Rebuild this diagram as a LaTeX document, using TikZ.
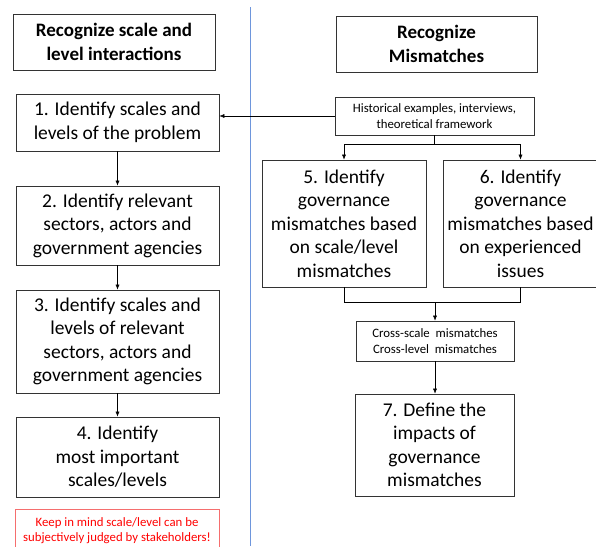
\documentclass[tikz,border=0pt]{standalone}
\usepackage{fontspec}
\setmainfont{Carlito}
\usetikzlibrary{arrows.meta}

\definecolor{sepblue}{RGB}{110,150,220}
\definecolor{warnred}{RGB}{255,0,0}
\definecolor{warnframe}{RGB}{245,110,110}

\tikzset{
    box/.style={draw=black!80, line width=0.8pt, align=center, inner sep=2pt,
        font=\fontsize{19.5}{23.5}\selectfont},
    titlebox/.style={box, font=\fontsize{19}{24}\selectfont\bfseries},
    smallbox/.style={draw=black!80, line width=0.8pt, align=center, inner sep=2pt,
        font=\fontsize{12.8}{16.5}\selectfont},
    warnbox/.style={draw=warnframe, line width=0.8pt, align=center, inner sep=2pt,
        text=warnred, font=\fontsize{12.8}{15.5}\selectfont}
}

\begin{document}
\begin{tikzpicture}[x=1pt, y=-1pt, >={Latex[length=5pt,width=4pt]}]
    \useasboundingbox (0,0) rectangle (596,546);

    % Separator
    \draw[sepblue, line width=0.8pt] (250,7) -- (250,546);

    % Left column
    \node[titlebox, minimum width=202, minimum height=56] (tl) at (114,42)
        {Recognize scale and\\level interactions};
    \node[box, minimum width=203, minimum height=57] (b1) at (117.5,122.5)
        {1. Identify scales and\\levels of the problem};
    \node[box, minimum width=203, minimum height=79] (b2) at (117.5,225.5)
        {2. Identify relevant\\sectors, actors and\\government agencies};
    \node[box, minimum width=203, minimum height=103] (b3) at (117.5,341.5)
        {3. Identify scales and\\levels of relevant\\sectors, actors and\\government agencies};
    \node[box, minimum width=203, minimum height=80] (b4) at (117.5,457)
        {4. Identify\\most important\\scales/levels};
    \node[warnbox, minimum width=204, minimum height=42, anchor=north] (warn) at (117,509)
        {Keep in mind scale/level can be\\subjectively judged by stakeholders!};

    \draw[->] (b1) -- (b2);
    \draw[->] (b2) -- (b3);
    \draw[->] (b3) -- (b4);

    % Right column
    \node[titlebox, minimum width=201, minimum height=56] (tr) at (436.5,44)
        {Recognize\\Mismatches};
    \node[smallbox, minimum width=199, minimum height=38] (hist) at (434.5,116)
        {Historical examples, interviews,\\theoretical framework};
    \node[box, minimum width=164, minimum height=127] (b5) at (344,223.5)
        {5. Identify\\governance\\mismatches based\\on scale/level\\mismatches};
    \node[box, minimum width=155, minimum height=127] (b6) at (520.5,223.5)
        {6. Identify\\governance\\mismatches based\\on experienced\\issues};
    \node[smallbox, minimum width=158, minimum height=40] (cross) at (435,341)
        {Cross-scale\ \ mismatches\\Cross-level\ \ mismatches};
    \node[box, minimum width=159, minimum height=102] (b7) at (434.5,445)
        {7. Define the\\impacts of\\governance\\mismatches};

    \draw[->] (hist.west) -- (hist.west -| b1.east);
    \draw (hist.south) -- ++(0,9) coordinate (hj);
    \draw[->] (hj) -| (b5.north);
    \draw[->] (hj) -| (b6.north);
    \draw (b5.south) -- ++(0,15) -| (b6.south);
    \coordinate (mj) at (cross.north |- 0,302);
    \draw[->] (mj) -- (cross.north);
    \draw[->] (cross.south) -- (cross.south |- b7.north);
\end{tikzpicture}
\end{document}
